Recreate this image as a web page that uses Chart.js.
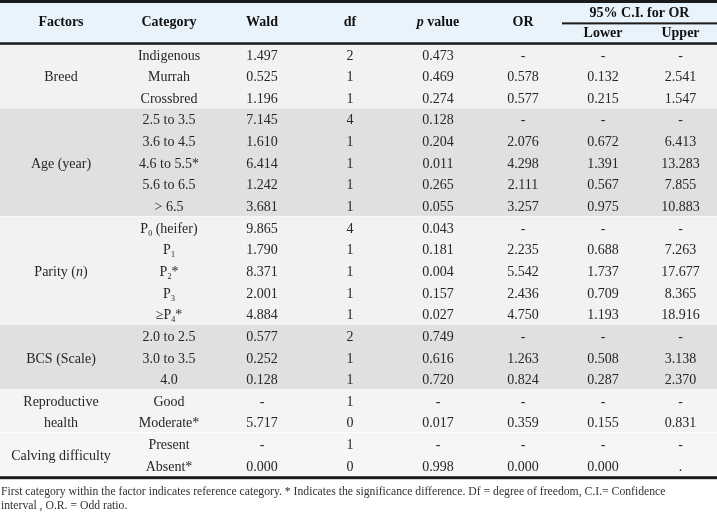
<!DOCTYPE html>
<html>
<head>
<meta charset="utf-8">
<script src="https://cdn.jsdelivr.net/npm/chart.js@4.4.1/dist/chart.umd.min.js"></script>
<style>
  html, body { margin: 0; padding: 0; background: #fff; }
  #wrap { width: 717px; height: 513px; }
</style>
</head>
<body>
<div id="wrap"><canvas id="tableChart" width="717" height="513"></canvas></div>
<script>
// values (markup: _{x} = subscript, /{x} = italic, | = line break)
var headers = ['Factors', 'Category', 'Wald', 'df', '/{p} value', 'OR', 'Lower', 'Upper'];
var spanHeader = '95% C.I. for OR';
var factors = ['Breed', 'Age (year)', 'Parity (/{n})', 'BCS (Scale)', 'Reproductive|health', 'Calving difficulty'];
var groupSizes = [3, 5, 5, 3, 2, 2];
var categories = ['Indigenous', 'Murrah', 'Crossbred',
  '2.5 to 3.5', '3.6 to 4.5', '4.6 to 5.5*', '5.6 to 6.5', '> 6.5',
  'P_{0} (heifer)', 'P_{1}', 'P_{2}*', 'P_{3}', '\u2265P_{4}*',
  '2.0 to 2.5', '3.0 to 3.5', '4.0',
  'Good', 'Moderate*', 'Present', 'Absent*'];
var wald = ['1.497', '0.525', '1.196', '7.145', '1.610', '6.414', '1.242', '3.681', '9.865', '1.790',
  '8.371', '2.001', '4.884', '0.577', '0.252', '0.128', '-', '5.717', '-', '0.000'];
var df = ['2', '1', '1', '4', '1', '1', '1', '1', '4', '1', '1', '1', '1', '2', '1', '1', '1', '0', '1', '0'];
var pValue = ['0.473', '0.469', '0.274', '0.128', '0.204', '0.011', '0.265', '0.055', '0.043', '0.181',
  '0.004', '0.157', '0.027', '0.749', '0.616', '0.720', '-', '0.017', '-', '0.998'];
var oddsRatio = ['-', '0.578', '0.577', '-', '2.076', '4.298', '2.111', '3.257', '-', '2.235',
  '5.542', '2.436', '4.750', '-', '1.263', '0.824', '-', '0.359', '-', '0.000'];
var ciLower = ['-', '0.132', '0.215', '-', '0.672', '1.391', '0.567', '0.975', '-', '0.688',
  '1.737', '0.709', '1.193', '-', '0.508', '0.287', '-', '0.155', '-', '0.000'];
var ciUpper = ['-', '2.541', '1.547', '-', '6.413', '13.283', '7.855', '10.883', '-', '7.263',
  '17.677', '8.365', '18.916', '-', '3.138', '2.370', '-', '0.831', '-', '.'];
var footnote = ['First category within the factor indicates reference category. * Indicates the significance difference. Df = degree of freedom, C.I.= Confidence',
  'interval , O.R. = Odd ratio.'];

// layout
var colWidths = [122, 94, 92, 84, 92, 78, 82, 73];
var groupFills = ['#f2f2f2', '#e0e0e0', '#f2f2f2', '#e0e0e0', '#f4f4f4', '#f6f6f6'];
var headerFill = '#e9f3fb';
var serif = '"Liberation Serif", "DejaVu Serif", serif';
var textShift = 0.08; // body text sits a little below the row middle

var colEdges = [0];
colWidths.forEach(function (w) { colEdges.push(colEdges[colEdges.length - 1] + w); });
var colCenter = colWidths.map(function (w, i) { return colEdges[i] + w / 2; });
var nRows = categories.length;

function colPoints(c, values) {
  return values.map(function (v, r) { return { x: colCenter[c], y: r + 0.5 + textShift }; });
}

// factor labels sit in the middle of their group
var factorPts = [], factorTexts = [], groupStart = [], acc = 0;
groupSizes.forEach(function (n, g) {
  groupStart.push(acc);
  var lines = factors[g].split('|');
  var mid = acc + n / 2 + textShift;
  lines.forEach(function (t, k) {
    factorPts.push({ x: colCenter[0], y: mid + (k - (lines.length - 1) / 2) });
    factorTexts.push(t);
  });
  acc += n;
});

var headerPts = headers.map(function (h, c) {
  return { x: colCenter[c], y: c >= 6 ? -0.45 : -0.95 };
});
var spanCenter = (colEdges[6] + colEdges[8]) / 2;

function cellSet(points, texts, font, align, color) {
  return { data: points, texts: texts, cellFont: font, align: align || 'center', color: color || '#262626', pointRadius: 0 };
}

var bodyFont = { size: 14, weight: 'normal' };
var headFont = { size: 14, weight: 'bold' };

var datasets = [
  cellSet(headerPts, headers, headFont, 'center', '#111'),
  cellSet([{ x: spanCenter, y: -1.4 }], [spanHeader], headFont, 'center', '#111'),
  cellSet(factorPts, factorTexts, bodyFont),
  cellSet(colPoints(1, categories), categories, bodyFont),
  cellSet(colPoints(2, wald), wald, bodyFont),
  cellSet(colPoints(3, df), df, bodyFont),
  cellSet(colPoints(4, pValue), pValue, bodyFont),
  cellSet(colPoints(5, oddsRatio), oddsRatio, bodyFont),
  cellSet(colPoints(6, ciLower), ciLower, bodyFont),
  cellSet(colPoints(7, ciUpper), ciUpper, bodyFont),
  cellSet([{ x: 1, y: nRows + 0.72 }, { x: 1, y: nRows + 1.37 }], footnote, { size: 11.7, weight: 'normal' }, 'left', '#333')
];

function parseRich(s) {
  var segs = [], re = /(_\{[^}]*\}|\/\{[^}]*\})/g, last = 0, m;
  while ((m = re.exec(s)) !== null) {
    if (m.index > last) segs.push({ t: s.slice(last, m.index) });
    var inner = m[0].slice(2, -1);
    if (m[0][0] === '_') segs.push({ t: inner, sub: true });
    else segs.push({ t: inner, it: true });
    last = re.lastIndex;
  }
  if (last < s.length) segs.push({ t: s.slice(last) });
  return segs;
}

function segFont(seg, f) {
  var size = seg.sub ? Math.round(f.size * 0.58) : f.size;
  return (seg.it ? 'italic ' : '') + f.weight + ' ' + size + 'px ' + serif;
}

function drawRich(ctx, text, x, y, f, align, color) {
  var segs = parseRich(text);
  var total = 0;
  segs.forEach(function (s) { ctx.font = segFont(s, f); s.w = ctx.measureText(s.t).width; total += s.w; });
  var cx = align === 'left' ? x : x - total / 2;
  ctx.fillStyle = color;
  ctx.textBaseline = 'middle';
  ctx.textAlign = 'left';
  segs.forEach(function (s) {
    ctx.font = segFont(s, f);
    ctx.fillText(s.t, cx, s.sub ? y + f.size * 0.33 : y);
    cx += s.w;
  });
}

var tablePlugin = {
  id: 'tableCells',
  beforeDatasetsDraw: function (chart) {
    var ctx = chart.ctx, xs = chart.scales.x, ys = chart.scales.y;
    var left = xs.getPixelForValue(0), right = xs.getPixelForValue(colEdges[8]);
    ctx.save();
    ctx.fillStyle = headerFill;
    ctx.fillRect(left, ys.getPixelForValue(-2), right - left, ys.getPixelForValue(0) - ys.getPixelForValue(-2));
    groupSizes.forEach(function (n, g) {
      var top = ys.getPixelForValue(groupStart[g]), bot = ys.getPixelForValue(groupStart[g] + n);
      ctx.fillStyle = groupFills[g];
      ctx.fillRect(left, top, right - left, bot - top);
      // thin white gap between groups
      ctx.fillStyle = '#ffffff';
      ctx.fillRect(left, bot - 0.5, right - left, 1.5);
    });
    ctx.fillStyle = '#1b1b1b';
    var topY = ys.getPixelForValue(-2);
    ctx.fillRect(left, topY, right - left, 3);
    var headY = ys.getPixelForValue(0);
    ctx.fillRect(left, headY - 1, right - left, 2.5);
    var botY = ys.getPixelForValue(nRows);
    ctx.fillRect(left, botY, right - left, 3);
    var subY = ys.getPixelForValue(-0.92);
    var sx = xs.getPixelForValue(colEdges[6]);
    ctx.fillRect(sx, subY - 1, right - sx, 2);
    ctx.restore();
  },
  afterDatasetsDraw: function (chart) {
    var ctx = chart.ctx;
    ctx.save();
    chart.data.datasets.forEach(function (ds, i) {
      var meta = chart.getDatasetMeta(i);
      meta.data.forEach(function (pt, j) {
        drawRich(ctx, ds.texts[j], pt.x, pt.y, ds.cellFont, ds.align, ds.color);
      });
    });
    ctx.restore();
  }
};

new Chart(document.getElementById('tableChart'), {
  type: 'scatter',
  data: { datasets: datasets },
  options: {
    responsive: false,
    animation: false,
    devicePixelRatio: 1,
    layout: { padding: 0 },
    events: [],
    plugins: { legend: { display: false }, tooltip: { enabled: false } },
    scales: {
      x: { type: 'linear', display: false, min: 0, max: colEdges[8] },
      y: { type: 'linear', display: false, reverse: true, min: -2, max: nRows + 1.7 }
    }
  },
  plugins: [tablePlugin]
});
</script>
</body>
</html>
